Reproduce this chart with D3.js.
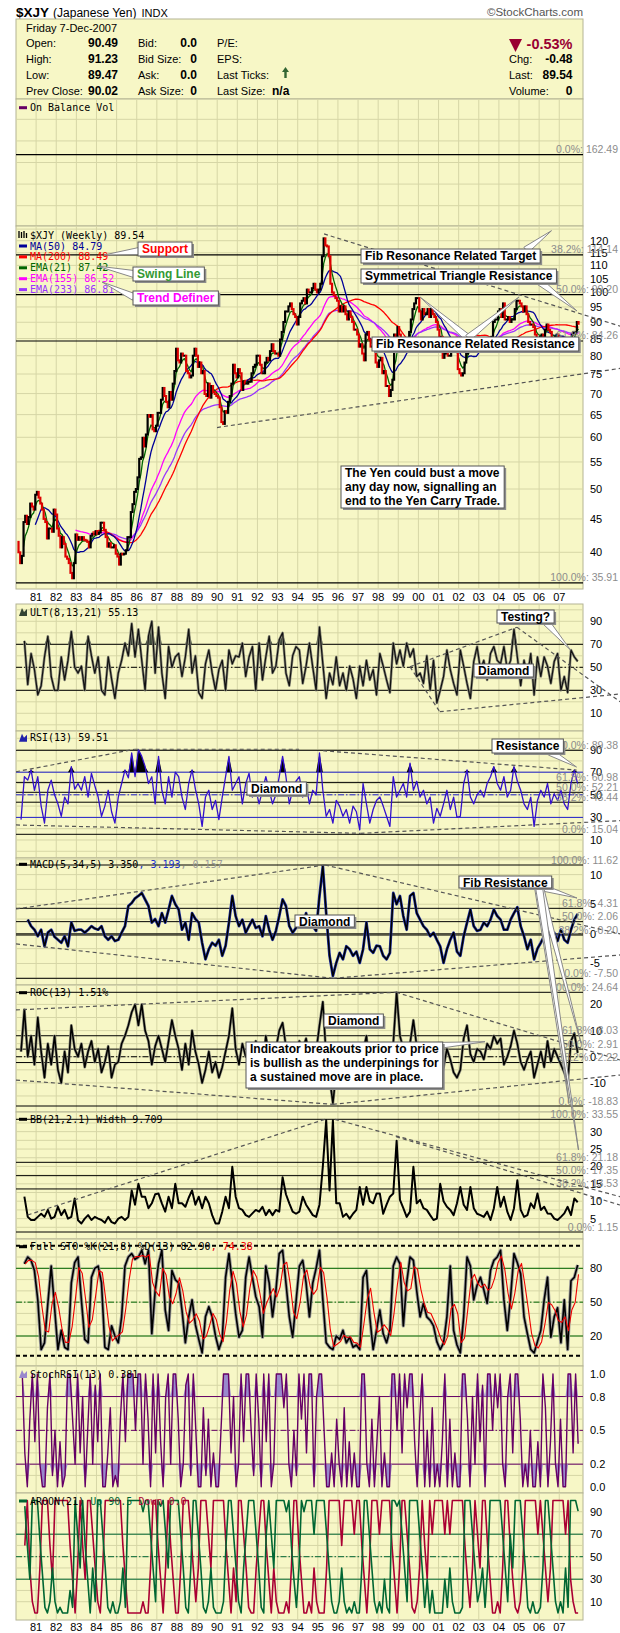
<!DOCTYPE html>
<html><head><meta charset="utf-8">
<script src="https://cdn.jsdelivr.net/npm/d3@7"></script>
<style>
body{margin:0;background:#fff}
svg{display:block}
text{font-family:"Liberation Sans",Arial,sans-serif}
.mono{font-family:"DejaVu Sans Mono",monospace;font-size:10px}
</style></head>
<body><svg id="c" width="620" height="1633"></svg>
<script>
// ---------------- DATA ----------------
const yearTicks = ["81","82","83","84","85","86","87","88","89","90","91","92","93","94","95","96","97","98","99","00","01","02","03","04","05","06","07"];
const priceTicks = [40,45,50,55,60,65,70,75,80,85,90,95,100,105,110,115,120];
const priceFib = [162.49,114.14,99.20,84.26,35.91];
const priceFibLabels = ["0.0%: 162.49","38.2%: 114.14","50.0%: 99.20","61.8%: 84.26","100.0%: 35.91"];
// monthly closes of $XJY, Jan 1980 .. Dec 2007
const priceClose = [
41.5,40.0,38.5,39.5,44.5,45.5,44.2,45.3,47.5,47.0,46.5,49.0,
49.5,48.5,47.5,46.5,45.0,44.5,42.0,43.5,43.5,43.0,46.5,45.7,
43.5,42.4,40.7,42.2,41.2,39.4,39.1,38.5,37.2,36.5,38.5,42.6,
41.8,42.2,41.8,42.2,41.8,41.7,41.5,40.7,42.4,42.7,42.6,43.1,
42.7,42.9,44.4,44.4,43.3,42.2,40.8,41.3,40.7,40.7,41.0,39.8,
39.4,38.3,39.8,39.7,39.8,40.3,42.2,42.2,46.1,47.4,49.5,50.0,
52.1,55.6,55.9,59.9,58.1,60.6,64.9,64.5,64.9,61.7,61.3,62.5,
65.4,65.4,68.5,71.4,69.4,68.0,66.7,70.4,68.5,72.5,75.8,82.0,
78.7,78.1,80.6,80.0,80.0,75.8,75.2,74.1,74.6,80.0,82.0,80.0,
76.9,78.1,75.2,75.8,69.9,69.4,72.5,69.0,71.9,70.4,69.9,69.4,
69.0,66.7,63.3,62.9,65.8,65.4,68.0,69.4,72.5,77.5,75.2,74.1,
76.3,75.2,70.9,73.0,72.5,72.5,73.0,73.0,75.2,76.9,77.5,80.0,
80.0,77.5,75.2,75.2,78.1,79.4,78.7,81.3,83.3,81.3,80.6,80.6,
80.0,84.7,87.0,90.1,93.5,93.5,95.2,96.2,94.3,92.6,91.7,89.3,
91.7,96.2,97.1,98.0,96.2,101.0,100.0,100.0,101.5,103.1,101.0,100.0,
101.0,103.1,113.6,121.0,118.0,117.6,113.6,103.1,100.0,99.0,98.0,97.1,
93.5,95.2,93.5,95.2,92.6,90.9,93.5,91.7,90.1,87.7,87.7,86.2,
82.6,83.3,80.6,78.7,86.2,87.0,84.7,82.6,82.6,83.3,78.1,76.9,
78.7,79.4,75.2,75.8,71.9,71.9,69.4,70.9,73.5,86.2,81.3,88.5,
86.2,84.0,84.0,83.3,82.6,82.6,87.0,90.9,94.3,96.2,98.0,98.0,
93.5,90.9,94.3,92.6,92.6,94.3,91.7,94.3,92.6,91.7,90.1,87.7,
85.5,85.5,79.4,80.6,84.0,80.0,80.0,84.0,84.0,82.0,81.3,76.3,
75.2,74.6,75.2,78.1,80.6,84.0,83.3,84.7,82.0,82.0,82.0,84.0,
83.3,84.7,84.7,84.0,84.0,83.3,83.3,85.5,90.1,90.9,90.9,93.5,
94.3,91.7,96.2,90.9,90.9,91.7,90.1,90.9,90.9,94.3,97.1,97.1,
96.2,95.2,93.5,95.2,92.6,90.1,89.3,89.3,88.5,86.2,83.3,84.7,
85.5,86.2,84.7,87.7,89.3,87.7,87.0,84.7,84.7,85.5,86.2,84.0,
82.6,84.0,84.7,83.3,82.0,81.3,84.0,86.2,87.0,87.0,90.1,89.54];

// oscillators, six readings per year, 1980 .. 2007
const ultValues = [
null,null,73,35,62,48, 26,34,59,77,42,30, 30,59,39,56,81,50, 45,51,30,77,60,45,
59,30,26,59,40,23, 45,56,71,60,88,59, 83,56,30,77,90,45, 85,45,23,68,50,59,
62,42,59,83,45,60, 28,23,53,65,45,30, 48,56,30,65,53,60, 59,71,42,59,68,30,
71,39,59,77,45,51, 74,80,45,34,60,68, 65,36,51,71,50,30, 85,53,23,45,35,59,
34,45,30,51,40,23, 51,34,56,39,48,26, 62,51,39,28,71,53, 65,51,71,59,66,42,
45,36,60,30,56,19, 30,42,65,48,36,26, 65,51,36,23,55,68, 48,56,39,62,68,56,
53,68,48,56,83,59, 34,56,42,62,26,59, 42,59,51,36,55,62, 30,42,28,65,59,55.13];
const rsiValues = [
null,28,66,63,72,54, 66,40,25,54,63,50, 42,31,48,42,75,55, 60,54,66,48,69,58,
48,31,40,54,35,25, 48,60,72,65,87,66, 90,84,75,60,66,42, 84,54,42,66,48,70,
66,48,37,60,72,55, 42,22,48,54,37,45, 28,48,66,84,54,60, 66,42,60,69,48,55,
42,54,66,54,42,50, 66,84,66,42,54,62, 66,48,60,42,54,50, 87,54,31,37,25,45,
40,31,37,25,40,35, 19,60,42,25,37,45, 48,40,31,22,66,48, 54,60,48,78,54,62,
48,54,42,48,25,38, 31,42,54,37,48,30, 31,60,72,48,42,50, 54,48,60,66,75,60,
54,66,48,54,75,62, 54,42,37,48,22,45, 54,48,60,42,51,45, 54,42,37,60,72,59.51];
const rsiFib = [89.38,60.98,52.21,43.44,15.04];
const rsiFibLabels = ["100.0%: 89.38","61.8%: 60.98","50.0%: 52.21","38.2%: 43.44","0.0%: 15.04"];
const macdValues = [
null,null,null,2.4,1.3,0.7, -0.4,0.7,-2.1,0.2,0.7,-0.5, -1.0,-1.5,-0.4,-2.1,1.9,0.5, 0.7,0.7,0.2,0.7,1.3,0.9,
0.7,1.3,-0.4,-1.0,-0.4,-1.2, -1.0,0.2,1.3,4.7,5.2,6.0, 6.4,6.9,5.8,4.7,1.9,2.5, 1.3,3.5,1.9,4.1,6.4,5.0,
4.1,0.7,1.9,-1.0,3.5,2.5, 1.9,-1.5,-4.3,-2.6,-1.5,-2.0, -1.0,-3.7,-2.0,1.9,6.4,3.0, 1.3,2.4,0.2,1.3,2.4,1.0,
1.3,-0.4,3.0,0.7,-1.0,0.5, 3.0,5.8,4.7,1.3,0.2,1.0, 1.9,1.3,3.5,1.3,1.3,0.5, 6.4,11.4,3.5,-3.7,-7.1,-4.9,
-3.2,-4.3,-2.1,-2.6,-3.7,-3.0, -4.9,-2.6,1.9,-2.6,-3.2,-2.0, -2.1,-3.7,-4.3,-3.2,6.9,5.0, 6.4,3.0,0.7,6.4,6.9,3.5,
2.4,1.3,0.7,-0.4,0.2,-1.0, -2.1,-4.9,-2.6,-1.0,0.2,-3.0, -3.7,-0.4,1.9,4.1,1.3,0.5, 0.7,1.9,1.3,2.4,4.1,3.0,
2.4,0.7,0.7,2.4,3.5,4.5, 1.3,-0.4,-2.6,-1.0,-4.3,-2.5, -1.5,-0.4,0.7,-0.4,0.2,-1.2, 0.7,-1.0,-1.5,0.7,2.4,3.35];
const macdFib = [11.62,4.31,2.06,-0.20,-7.50];
const macdFibLabels = ["100.0%: 11.62","61.8%: 4.31","50.0%: 2.06","38.2%: -0.20","0.0%: -7.50"];
const rocValues = [
null,2,18,0,8,-3, 15,2,-8,5,-3,8, -5,-10,2,-6,12,3, 0,5,-4,2,6,-2,
3,-6,-2,4,-8,-3, -2,5,8,12,17,20, 12,20,10,6,-3,4, 8,3,-2,6,14,8,
3,-5,5,-3,10,2, -3,-10,-5,2,-6,-2, -8,-4,2,8,18.5,3, -3,5,0,4,-2,6,
2,-5,8,0,-3,3, 10,13,4,0,-4,2, 6,3,7,0,5,2, 12,21,0,-8,-17.7,-6,
-3,-8,0,-5,-4,-2, -9,2,8,-6,-3,-5, -2,-6,-9,-3,5,24.6, 8,3,-3,5,14,4,
-2,3,-5,2,-3,-6, -10,-4,3,-1,-6,-8, -5,7,12,1,-2,3, 2,-1,5,3,8,5,
7,-3,0,4,10,5, -2,-5,-1,2,-8,-3, 2,-4,6,-2,3,0, -3,-6,-10,6,9,1.51];
const rocFib = [24.64,8.03,2.91,-2.22,-18.83];
const rocFibLabels = ["100.0%: 24.64","61.8%: 8.03","50.0%: 2.91","38.2%: -2.22","0.0%: -18.83"];
const bbValues = [
null,null,11.3,5.5,4.6,4.6, 5.5,6.4,5.5,7.5,5.0,5.5, 8.4,6.0,7.5,5.0,5.5,10.8, 4.5,3.6,5.0,6.0,4.6,5.5,
5.0,4.6,3.8,5.5,4.0,3.6, 5.0,5.5,4.6,5.5,13.1,9.0, 15.0,11.3,11.3,8.0,9.4,12.0, 12.2,9.4,7.0,11.3,8.0,15.0,
9.4,9.4,8.4,11.0,13.1,9.0, 11.3,8.0,11.3,9.4,6.0,3.6, 3.6,7.0,11.3,8.0,19.9,11.3, 8.0,7.5,6.0,5.5,6.5,7.5,
7.0,8.4,6.0,7.5,6.0,7.5, 7.0,16.9,12.0,9.4,7.0,6.4, 7.0,11.3,9.0,7.5,6.0,5.5, 9.0,20.0,33.3,13.1,33.3,9.4,
9.4,5.5,6.4,5.0,6.4,7.5, 14.1,9.0,14.1,10.0,9.4,12.2, 12.2,6.4,9.0,11.3,12.2,27.4, 10.4,8.0,5.5,7.0,19.9,9.4,
10.4,8.0,7.5,6.0,4.6,5.0, 15.0,10.0,8.4,7.5,6.0,9.4, 14.1,9.0,7.5,14.1,8.0,6.4, 6.0,5.5,7.0,4.6,8.0,14.1,
8.4,11.3,7.0,4.6,8.0,16.0, 7.5,5.5,6.0,9.4,8.0,12.2, 7.5,8.4,6.5,6.4,5.0,4.6, 5.5,6.5,8.4,6.0,10.8,9.71];
const bbFib = [33.55,21.18,17.35,13.53,1.15];
const bbFibLabels = ["100.0%: 33.55","61.8%: 21.18","50.0%: 17.35","38.2%: 13.53","0.0%: 1.15"];
const stoK = [
null,null,84,90,87,78, 52,8,14,49,82,45, 8,25,10,8,67,85, 90,52,17,14,72,80,
82,67,10,8,29,20, 14,37,82,90,93,88, 90,96,84,96,22,60, 84,96,43,25,78,70,
67,43,14,37,52,30, 17,5,37,46,37,20, 8,17,72,93,67,40, 19,25,72,90,72,55,
46,19,82,67,37,60, 93,96,67,37,19,50, 82,87,67,37,67,80, 96,52,14,10,8,20,
17,25,14,19,10,12, 8,72,78,37,8,25, 43,22,14,25,82,90, 84,29,67,90,87,60,
37,49,37,34,29,15, 8,14,37,82,25,12, 5,37,90,82,52,65, 72,61,49,78,87,90,
96,52,25,55,93,85, 75,37,22,8,5,15, 25,52,72,19,37,45, 14,52,8,69,72,82.9];
// eight readings per year
const stochRsiValues = [
null,null,1,0.3,0,0.6,1,0.4, 1,0.2,0,0,0.7,1,0.1,0.5, 0,0.4,0,0.1,1,1,0.6,0.2, 1,0.3,0.8,0,0.5,1,0.2,0.9,
0.4,1,0,0,0.3,0.7,0,0.1, 0,0.6,1,0.4,1,1,1,0.5, 1,1,0.2,1,0.6,0,1,0.3, 1,0.4,0,0.8,1,0.2,1,1,
0.6,0,0.2,0.9,1,0.1,1,0.5, 0,0,0.7,0.1,0.6,0,0.3,0, 0,0.5,1,1,1,0.3,0.8,0, 0.2,1,0.4,1,1,0.5,0.1,1,
0.6,0,1,0.4,1,0,0.2,1, 1,1,0.7,1,0.2,0,0.5,0.1, 1,0.6,1,0.3,1,1,0,0.8, 1,1,0.5,0,0,0.3,0,0.6,
0.2,0,0.7,0,0.4,0,0.3,0, 0,1,1,0.2,0,0.6,0,0.4, 0.8,0,0.3,0,0,1,1,0.5, 1,0.3,1,0.7,1,1,0.4,0,
0.6,1,0,0.5,0,0.7,0,0.2, 0,0.4,1,0,0.6,0,0.3,0, 0,1,1,0.6,0,0.8,0.2,1, 0.4,0.9,0,1,1,0.5,1,0.7,
1,0.2,0,0.8,1,0.3,1,1, 0.6,0,0.2,0,0.5,0,0,0.4, 0,1,0.7,0,0.4,1,0.2,0, 0.6,0,0,1,1,0.3,1,0.381];
const aroonUp = [
null,null,null,95,60,30,100,100, 100,65,35,5,0,10,40,10, 0,5,0,0,0,20,5,100, 70,40,100,60,30,0,40,10,
100,100,70,40,5,0,10,0, 0,10,40,5,100,100,100,100, 100,100,90,100,100,70,40,10, 100,95,100,70,40,100,100,100,
100,70,40,5,0,40,100,100, 70,40,5,0,10,40,5,0, 0,0,10,60,100,100,70,40, 10,0,40,70,100,100,100,70,
40,5,0,70,100,70,40,100, 100,100,100,90,100,60,30,5, 40,100,90,100,100,100,70,100, 100,100,100,70,40,10,0,0,
10,40,10,0,5,0,10,0, 0,40,100,100,70,40,10,0, 10,0,30,5,0,100,100,95, 100,70,40,10,100,100,100,100,
70,40,5,30,0,20,0,0, 0,0,30,5,40,10,0,0, 0,5,100,100,100,70,40,10, 20,40,5,40,100,100,100,100,
100,70,40,10,70,40,100,100, 100,70,40,5,0,10,0,0, 5,40,100,100,70,40,10,0, 10,0,40,5,100,100,100,90.5];
const aroonDown = [
null,null,null,60,100,40,10,0, 0,40,100,100,100,60,30,100, 100,100,100,100,100,60,30,0, 40,100,60,30,100,100,70,40,
10,0,40,100,100,100,100,100, 100,100,60,30,0,0,0,0, 0,0,10,0,0,40,100,100, 60,30,0,40,100,60,30,0,
0,40,100,100,100,70,40,10, 40,100,100,100,70,40,100,100, 100,100,100,60,30,0,40,10, 100,100,70,40,5,0,0,40,
70,100,100,60,30,0,40,10, 0,0,0,10,0,40,100,100, 60,30,0,0,10,0,40,10, 0,0,0,40,100,100,100,100,
100,60,100,100,100,100,70,100, 100,60,30,0,40,100,100,100, 70,100,100,100,100,60,30,0, 40,100,100,70,40,5,0,10,
40,100,60,30,100,70,100,100, 100,100,70,100,70,100,100,100, 100,100,60,30,5,40,100,70, 40,100,100,60,30,0,0,10,
0,40,100,100,60,30,5,0, 10,40,100,100,100,100,100,70, 100,70,40,10,40,100,100,100, 100,100,70,100,30,10,0,0];

// moving-average periods (weeks)
const maPeriods = [{type:"sma",weeks:50,color:"#000099",label:"MA(50) 84.79"},
  {type:"sma",weeks:200,color:"#FF0000",label:"MA(200) 88.49"},
  {type:"ema",weeks:21,color:"#006600",label:"EMA(21) 87.42"},
  {type:"ema",weeks:155,color:"#FF00FF",label:"EMA(155) 86.52"},
  {type:"ema",weeks:233,color:"#9933FF",label:"EMA(233) 86.81"}];

// ---------------- LAYOUT ----------------
const svg = d3.select("#c");
const BG="#F7F7C6", GRID="#D6D6A6", BORDER="#B4B494";
const XL=16, XR=583;
const x = d3.scaleLinear().domain([1980,2008.18]).range([XL,XR]);
const panels = {obv:[99,127],price:[226,363],ult:[604,127],rsi:[731,127],macd:[858,127],roc:[985,127],bb:[1112,127],sto:[1239,127],srsi:[1366,127],aroon:[1493,127]};

const yP = d3.scaleLog().domain([40,120]).range([552.3,240.7]);
const yU = d3.scaleLinear().domain([10,90]).range([713.3,621.3]);
const yR = d3.scaleLinear().domain([15.04,89.38]).range([834.3,750.3]);
const yM = d3.scaleLinear().domain([-7.5,11.62]).range([978.3,865]);
const yC = d3.scaleLinear().domain([-18.83,24.64]).range([1106,992.3]);
const yB = d3.scaleLinear().domain([1.15,33.55]).range([1232,1119.3]);
const yS = d3.scaleLinear().domain([20,80]).range([1336,1268.3]);
const ySR = d3.scaleLinear().domain([0,1]).range([1486.7,1374]);
const yA = d3.scaleLinear().domain([10,90]).range([1601.7,1511.7]);

const defs = svg.append("defs");
Object.entries(panels).forEach(([k,[t,h]])=>{
  defs.append("clipPath").attr("id","clip-"+k).append("rect").attr("x",XL).attr("y",t).attr("width",XR-XL).attr("height",h);
});

// header
const ttl = svg.append("text").attr("x",16).attr("y",17);
ttl.append("tspan").attr("font-size",13.5).attr("font-weight","bold").text("$XJY");
ttl.append("tspan").attr("font-size",12).attr("dx",4).text("(Japanese Yen)");
ttl.append("tspan").attr("font-size",11).attr("dx",5).text("INDX");
svg.append("text").attr("x",583).attr("y",16).attr("font-size",11.5).attr("fill","#555").attr("text-anchor","end").text("\u00A9StockCharts.com");
svg.append("rect").attr("x",XL).attr("y",19).attr("width",XR-XL).attr("height",80).attr("fill",BG).attr("stroke",BORDER);

const hdr = svg.append("g").attr("font-size",11);
hdr.append("text").attr("x",26).attr("y",32).text("Friday  7-Dec-2007");
const rowsY=[47,63,79,95];
const col1=[["Open:","90.49"],["High:","91.23"],["Low:","89.47"],["Prev Close:","90.02"]];
const col2=[["Bid:","0.0"],["Bid Size:","0"],["Ask:","0.0"],["Ask Size:","0"]];
const col3=["P/E:","EPS:","Last Ticks:","Last Size:"];
const col4=[["Chg:","-0.48"],["Last:","89.54"],["Volume:","0"]];
col1.forEach((r,i)=>{hdr.append("text").attr("x",26).attr("y",rowsY[i]).text(r[0]);
  hdr.append("text").attr("x",118).attr("y",rowsY[i]).attr("text-anchor","end").attr("font-weight","bold").attr("font-size",12).text(r[1]);});
col2.forEach((r,i)=>{hdr.append("text").attr("x",138).attr("y",rowsY[i]).text(r[0]);
  hdr.append("text").attr("x",197).attr("y",rowsY[i]).attr("text-anchor","end").attr("font-weight","bold").attr("font-size",12).text(r[1]);});
col3.forEach((r,i)=>hdr.append("text").attr("x",217).attr("y",rowsY[i]).text(r));
hdr.append("text").attr("x",272).attr("y",rowsY[3]).attr("font-weight","bold").attr("font-size",12).text("n/a");
hdr.append("path").attr("d","M285.5,67 l-3.5,5 h2.3 v6 h2.4 v-6 h2.3 z").attr("fill","#336633");
col4.forEach((r,i)=>{hdr.append("text").attr("x",509).attr("y",rowsY[i+1]).text(r[0]);
  hdr.append("text").attr("x",572.5).attr("y",rowsY[i+1]).attr("text-anchor","end").attr("font-weight","bold").attr("font-size",12).text(r[1]);});
hdr.append("path").attr("d","M509,39 h13 l-6.5,13 z").attr("fill","#990033");
hdr.append("text").attr("x",572.5).attr("y",49).attr("text-anchor","end").attr("font-weight","bold").attr("font-size",14.5).attr("fill","#990033").text("-0.53%");

// panel backgrounds + grid
Object.entries(panels).forEach(([k,[t,h]])=>{
  svg.append("rect").attr("x",XL).attr("y",t).attr("width",XR-XL).attr("height",h).attr("fill",BG).attr("stroke",BORDER);
  const g = svg.append("g").attr("clip-path","url(#clip-"+k+")");
  d3.range(1981,2008).forEach(yr=>g.append("line").attr("x1",x(yr)).attr("x2",x(yr)).attr("y1",t).attr("y2",t+h).attr("stroke",GRID));
});
function hgrid(panel, scale, vals){
  const g = svg.append("g").attr("clip-path","url(#clip-"+panel+")");
  vals.forEach(v=>g.append("line").attr("x1",XL).attr("x2",XR).attr("y1",scale(v)).attr("y2",scale(v)).attr("stroke",GRID));
}
hgrid("obv", d3.scaleLinear().domain([0,1]).range([226,99]), [0.16,0.33,0.5,0.67,0.84]);
hgrid("price", yP, d3.range(35,125,5).concat([125]));
hgrid("ult", yU, d3.range(0,101,10));
hgrid("rsi", yR, d3.range(0,101,10));
hgrid("macd", yM, d3.range(-7.5,12.6,2.5));
hgrid("roc", yC, d3.range(-15,25,5));
hgrid("bb", yB, d3.range(2.5,35,2.5));
hgrid("sto", yS, d3.range(10,100,10));
hgrid("srsi", ySR, d3.range(0.1,0.95,0.1));
hgrid("aroon", yA, d3.range(10,100,10));

// x-axis labels
[597,1627].forEach(yy=>{
  yearTicks.forEach((lab,i)=>svg.append("text").attr("x",x(1981+i)).attr("y",yy+4).attr("text-anchor","middle").attr("font-size",11).text(lab));
});

// right axis labels
function axisLabels(scale, vals, fmt){
  vals.forEach(v=>svg.append("text").attr("x",590).attr("y",scale(v)+4).attr("font-size",11).text(fmt?fmt(v):v));
}
axisLabels(yP, priceTicks);
axisLabels(yU,[10,30,50,70,90]);
axisLabels(yR,[10,30,50,70,90]);
axisLabels(yM,[10,5,0,-5]);
axisLabels(yC,[20,10,0,-10]);
axisLabels(yB,[30,25,20,15,10,5]);
axisLabels(yS,[20,50,80]);
axisLabels(ySR,[0,0.2,0.5,0.8,1.0],d3.format(".1f"));
axisLabels(yA,[10,30,50,70,90]);

// level lines
function level(panel, scale, v, color, dash, w){
  svg.append("line").attr("x1",XL).attr("x2",XR).attr("y1",scale(v)).attr("y2",scale(v))
    .attr("stroke",color).attr("stroke-width",w||1).attr("stroke-dasharray",dash||null);
}
function fibLabels(scale, vals, labs){
  vals.forEach((v,i)=>svg.append("text").attr("x",618).attr("y",scale(v)-1.5).attr("text-anchor","end")
    .attr("font-size",10.5).attr("fill","#8C8C8C").text(labs[i]));
}
const DD="6,2,1.5,2";
priceFib.forEach(v=>svg.append("line").attr("x1",XL).attr("x2",XR).attr("y1",yP(v)).attr("y2",yP(v)).attr("stroke","#000").attr("stroke-width",1.2));
[70,30].forEach(v=>level("ult",yU,v,"#000"));
level("ult",yU,50,"#000",DD);
rsiFib.forEach(v=>level("rsi",yR,v,"#000"));
[70,30].forEach(v=>level("rsi",yR,v,"#2222CC"));
level("rsi",yR,50,"#2222CC",DD);
macdFib.forEach(v=>level("macd",yM,v,"#000"));
level("macd",yM,0,"#000");
rocFib.forEach(v=>level("roc",yC,v,"#000"));
level("roc",yC,0,"#000",DD);
bbFib.forEach(v=>level("bb",yB,v,"#000"));
[80,20].forEach(v=>level("sto",yS,v,"#006600"));
level("sto",yS,50,"#006600",DD);
level("sto",yS,100,"#000","4,3",2);
level("sto",yS,2.5,"#000","4,3",2);
[0.8,0.2].forEach(v=>level("srsi",ySR,v,"#660066"));
level("srsi",ySR,0.5,"#660066",DD);
[70,30].forEach(v=>level("aroon",yA,v,"#006633"));
level("aroon",yA,50,"#006633",DD);

// ---------------- SERIES ----------------
const toPts = (arr, per) => arr.map((v,i)=>({t:1980+(i+0.5)/per, v}));
function drawLine(panel, scale, pts, color, width){
  const ln = d3.line().defined(d=>d.v!=null).x(d=>x(d.t)).y(d=>scale(d.v));
  return svg.append("path").attr("clip-path","url(#clip-"+panel+")").attr("d",ln(pts))
    .attr("fill","none").attr("stroke",color).attr("stroke-width",width).attr("stroke-linejoin","round");
}
function drawBand(panel, scale, pts, lvl, above, color){
  const ar = d3.area().defined(d=>d.v!=null).x(d=>x(d.t)).y0(scale(lvl))
    .y1(d=>scale(above?Math.max(d.v,lvl):Math.min(d.v,lvl)));
  svg.append("path").attr("clip-path","url(#clip-"+panel+")").attr("d",ar(pts)).attr("fill",color);
}

const pricePts = toPts(priceClose,12);
const wpm = 52/12;
function sma(arr,n){return arr.map((d,i)=>i<n-1?null:d3.mean(arr.slice(i-n+1,i+1)));}
function ema(arr,n){const a=2/(n+1);let prev=null;return arr.map((d,i)=>{if(i<n-1)return null;if(i===n-1){prev=d3.mean(arr.slice(0,n));return prev;}prev=prev+a*(d-prev);return prev;});}
const maSeries = maPeriods.map(m=>{
  const n = Math.round(m.weeks/wpm);
  const vals = m.type==="sma"?sma(priceClose,n):ema(priceClose,n);
  return {m, pts: vals.map((v,i)=>({t:pricePts[i].t, v}))};
});
[3,4,1,0,2].forEach(k=>drawLine("price",yP,maSeries[k].pts,maSeries[k].m.color,1.3));
const pg = svg.append("g").attr("clip-path","url(#clip-price)");
pricePts.forEach((d,i)=>{
  if(i===0) return;
  const p = pricePts[i-1].v, c = d.v;
  const y1 = yP(Math.max(p,c)), y2 = yP(Math.min(p,c));
  pg.append("rect").attr("x",x(d.t)-1.1).attr("width",2.2).attr("y",y1-1).attr("height",Math.max(2,y2-y1+2))
    .attr("fill", c>=p ? "#000" : "#DD0000");
});

const ultPts = toPts(ultValues,6);
drawBand("ult",yU,ultPts,70,true,"#3E4A3A");
drawLine("ult",yU,ultPts,"#8A8A7A",2.6);
drawLine("ult",yU,ultPts,"#111",1.2);
const rsiPts = toPts(rsiValues,6);
drawBand("rsi",yR,rsiPts,70,true,"#000");
drawLine("rsi",yR,rsiPts,"#3311CC",1.3);
const macdPts = toPts(macdValues,6);
drawLine("macd",yM,macdPts,"#2233AA",2.8);
drawLine("macd",yM,macdPts,"#000",1.5);
const rocPts = toPts(rocValues,6);
drawLine("roc",yC,rocPts,"#8A8A7A",2.8);
drawLine("roc",yC,rocPts,"#000",1.5);
drawLine("bb",yB,toPts(bbValues,6),"#000",2);
const kPts = toPts(stoK,6);
const dPts = kPts.map((d,i)=>{const w=stoK.slice(Math.max(0,i-2),i+1).filter(v=>v!=null);return {t:d.t+0.04,v:w.length?d3.mean(w):null};});
drawLine("sto",yS,kPts,"#999",3.4);
drawLine("sto",yS,kPts,"#000",1.6);
drawLine("sto",yS,dPts,"#EE0000",1.1);
const srPts = toPts(stochRsiValues,8);
drawBand("srsi",ySR,srPts,0.8,true,"#9988CC");
drawBand("srsi",ySR,srPts,0.2,false,"#9988CC");
drawLine("srsi",ySR,srPts,"#660066",1.4);
drawLine("aroon",yA,toPts(aroonDown,8),"#AA0033",1.6);
drawLine("aroon",yA,toPts(aroonUp,8),"#006633",1.6);

// ---------------- LEGENDS ----------------
function legend(xx,yy,parts,icon){
  if(icon) svg.append("rect").attr("x",19).attr("y",yy-1.5).attr("width",8).attr("height",3).attr("fill",icon);
  const t = svg.append("text").attr("class","mono").attr("x",xx).attr("y",yy+3.5);
  parts.forEach(p=>t.append("tspan").attr("fill",p[1]).text(p[0]));
}
legend(30,107.7,[["On Balance Vol","#000"]],"#660066");
legend(30,235,[["$XJY (Weekly) 89.54","#000"]]);
svg.append("path").attr("d","M19,231 v7 M21.5,232 v6 M24,231 v7 M26.5,233 v5").attr("stroke","#000").attr("stroke-width",1.3);
maSeries.forEach((s,i)=>legend(30,246+i*10.9,[[s.m.label,s.m.color]],s.m.color));
function mountain(yy,color){svg.append("path").attr("d",`M19,${yy+4} l3,-8 l2,4 l3,-3 v7 z`).attr("fill",color);}
mountain(612,"#334433"); legend(30,612,[["ULT(8,13,21) 55.13","#000"]]);
mountain(737.7,"#2222AA"); legend(30,737.7,[["RSI(13) 59.51","#000"]]);
legend(30,864.3,[["MACD(5,34,5) 3.350","#000"],[", 3.193","#2233CC"],[", 0.157","#999"]],"#000");
legend(30,992.7,[["ROC(13) 1.51%","#000"]],"#000");
legend(30,1119.3,[["BB(21,2.1) Width 9.709","#000"]],"#000");
legend(30,1246.7,[["Full STO %K(21,8) %D(13) 82.90","#000"],[", 74.38","#EE0000"]],"#000");
mountain(1374,"#9988CC"); legend(30,1374,[["StochRSI(13) 0.381","#000"]]);
legend(30,1501,[["AROON(21) ","#000"],["Up 90.5 ","#006633"],["Down 0.0","#AA0033"]],"#006633");

fibLabels(yP, priceFib, priceFibLabels);
fibLabels(yR, rsiFib, rsiFibLabels);
fibLabels(yM, macdFib, macdFibLabels);
fibLabels(yC, rocFib, rocFibLabels);
fibLabels(yB, bbFib, bbFibLabels);

// ---------------- TREND LINES (data coordinates) ----------------
const trendLines = [
 ["price",yP,[[1995.31,122.9],[2010.02,88.8]]],
 ["price",yP,[[1989.99,62.1],[2010.02,76.5]]],
 ["ult",yU,[[1999.58,50.5],[2004.9,84.8]]],
 ["ult",yU,[[2004.9,84.8],[2010.02,20.1]]],
 ["ult",yU,[[1999.58,50.5],[2001.06,11.4]]],
 ["ult",yU,[[2001.06,11.4],[2010.02,26.8]]],
 ["rsi",yR,[[1980,70.4],[1985.9,90.3]]],
 ["rsi",yR,[[1985.9,90.3],[1994.07,90.3]]],
 ["rsi",yR,[[1995.26,89.0],[2007.86,71.9]]],
 ["rsi",yR,[[1980,23.3],[1997.12,15.9]]],
 ["rsi",yR,[[1997.12,15.9],[2010.02,27.1]]],
 ["macd",yM,[[1980,4.2],[1995.36,11.62]]],
 ["macd",yM,[[1995.36,11.62],[2010.02,0.0]]],
 ["macd",yM,[[1980,-1.7],[1995.75,-7.5]]],
 ["macd",yM,[[1995.75,-7.5],[2010.02,-3.56]]],
 ["roc",yC,[[1980,17.9],[1998.89,24.64]]],
 ["roc",yC,[[1998.89,24.64],[2010.02,-1.25]]],
 ["roc",yC,[[1980,-8.9],[1995.75,-18.2]]],
 ["roc",yC,[[1995.75,-18.2],[2010.02,-7.0]]],
 ["bb",yB,[[1980.58,6.05],[1995.36,33.55]]],
 ["bb",yB,[[1995.85,33.55],[2010.02,11.3]]],
 ["bb",yB,[[1998.89,28.55],[2010.02,8.9]]]
];
trendLines.forEach(([panel,scale,pts])=>{
  svg.append("line").attr("x1",x(pts[0][0])).attr("y1",scale(pts[0][1])).attr("x2",x(pts[1][0])).attr("y2",scale(pts[1][1]))
    .attr("stroke","#555").attr("stroke-width",1.2).attr("stroke-dasharray","4,3");
});

// ---------------- CALLOUTS ----------------
const notes = [
 {x:138,y:242,h:14,lines:["Support"],color:"#FF0000",ptr:[[139,251,104,255]]},
 {x:133,y:267,h:14,lines:["Swing Line"],color:"#339933",ptr:[[134,274,97,266]]},
 {x:133,y:291,h:14,lines:["Trend Definer"],color:"#FF00FF",ptr:[[134,297,102,282]]},
 {x:361,y:249,h:14,lines:["Fib Resonance Related Target"],color:"#000",ptr:[[526,250,551.5,230.7]]},
 {x:361,y:269,h:14,lines:["Symmetrical Triangle Resistance"],color:"#000",ptr:[[540,282,577,311]]},
 {x:372,y:337,h:14,lines:["Fib Resonance Related Resistance"],color:"#000",ptr:[[468,338,420,297],[468,338,519,297]]},
 {x:341,y:466,h:42,lines:["The Yen could bust a move","any day now, signalling an","end to the Yen Carry Trade."],color:"#000",ptr:[]},
 {x:497,y:610,h:13,lines:["Testing?"],color:"#000",ptr:[[546,622,570.5,650]]},
 {x:474,y:664,h:13,lines:["Diamond"],color:"#000",ptr:[]},
 {x:492,y:739,h:14,lines:["Resistance"],color:"#000",ptr:[[550,752,576.5,767]]},
 {x:247,y:782,h:13,lines:["Diamond"],color:"#000",ptr:[]},
 {x:459,y:876,h:12,lines:["Fib Resistance"],color:"#000",ptr:[[540,887,577,898],[540,887,581,1043],[538,887,569,1103],[539,887,578.5,1150]]},
 {x:295,y:915,h:12,lines:["Diamond"],color:"#000",ptr:[]},
 {x:324,y:1014,h:13,lines:["Diamond"],color:"#000",ptr:[]},
 {x:246,y:1042,h:46,lines:["Indicator breakouts prior to price","is bullish as the underpinings for","a sustained move are in place."],color:"#000",ptr:[[432,1046,485,1041.7]]}
];
const noteLayer = svg.append("g");
notes.forEach(n=>{
  n.ptr.forEach(([bx,by,tx,ty])=>{
    const dx=tx-bx, dy=ty-by, L=Math.hypot(dx,dy), nx=-dy/L*3.5, ny=dx/L*3.5;
    noteLayer.append("path").attr("d",`M${bx+nx},${by+ny} L${tx},${ty} L${bx-nx},${by-ny} Z`)
      .attr("fill","#fff").attr("stroke","#888").attr("stroke-width",1);
  });
});
notes.forEach(n=>{
  const g = noteLayer.append("g");
  const sh = g.append("rect"), bx = g.append("rect");
  let maxW = 0;
  n.lines.forEach((l,i)=>{
    const t = g.append("text").attr("x",n.x+4).attr("y",n.y+11+i*14).attr("font-size",12).attr("font-weight","bold").attr("fill",n.color).text(l);
    maxW = Math.max(maxW, t.node().getComputedTextLength());
  });
  const w = maxW+8;
  sh.attr("x",n.x+2).attr("y",n.y+2).attr("width",w).attr("height",n.h).attr("fill","#8C8C8C");
  bx.attr("x",n.x).attr("y",n.y).attr("width",w).attr("height",n.h).attr("fill","#fff").attr("stroke","#555");
});
</script></body></html>
